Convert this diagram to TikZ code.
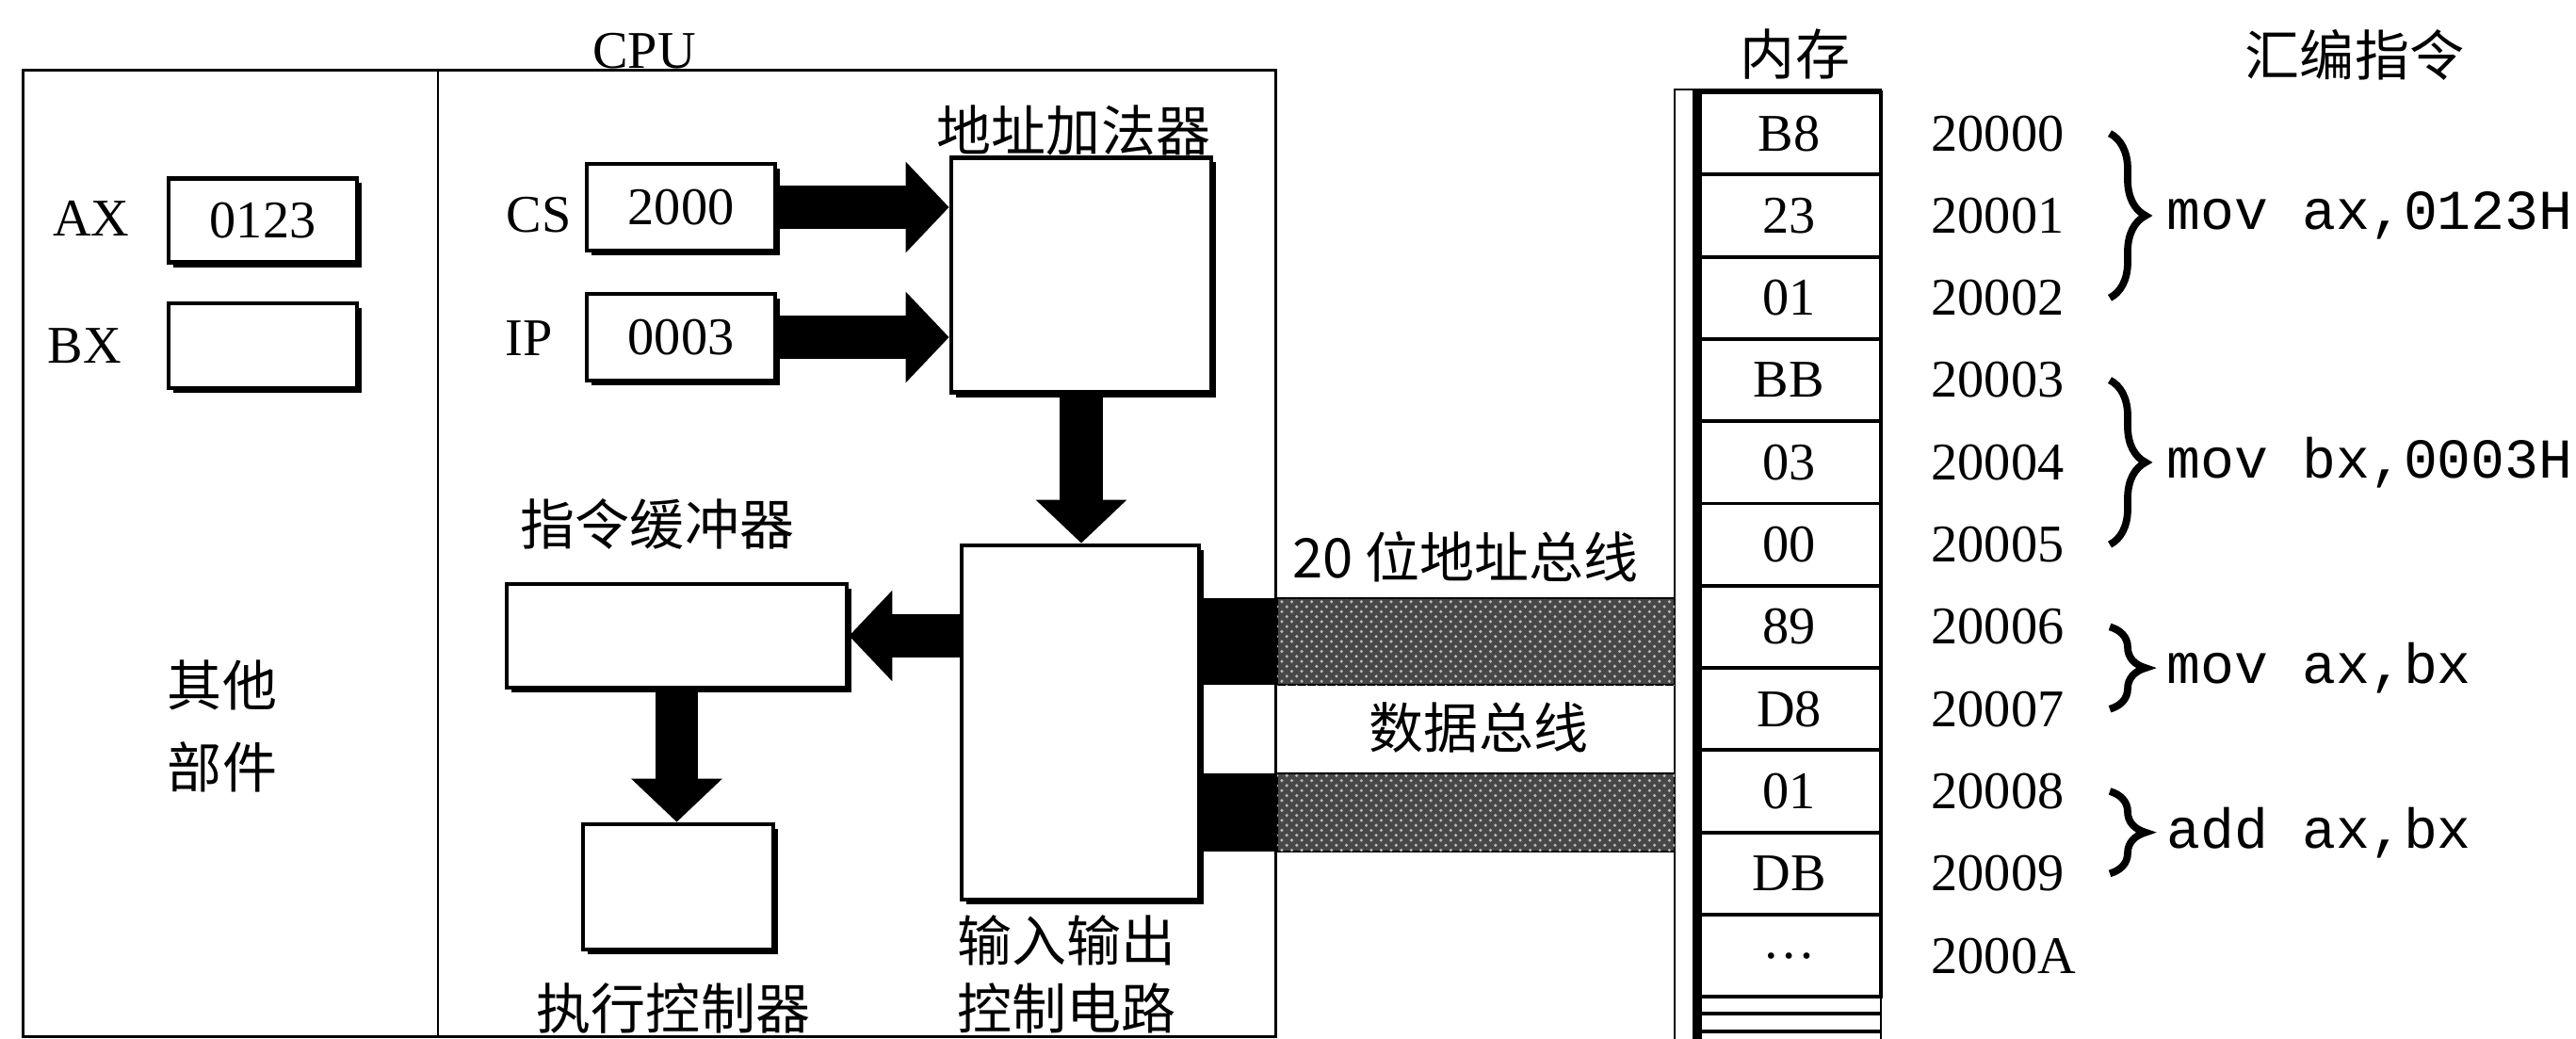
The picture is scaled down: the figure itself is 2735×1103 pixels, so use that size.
\documentclass[tikz,border=0pt]{standalone}
\usepackage{fontspec}
\setmainfont{Liberation Serif}
\setmonofont{Liberation Mono}
\newfontfamily\cjk{Noto Sans CJK SC}
\usepackage{tikz}
\usetikzlibrary{arrows.meta,calc,positioning,patterns,shadows,decorations.pathreplacing}

\begin{document}
\begin{tikzpicture}[x=0.01cm,y=-0.01cm,
  lbl/.style={font=\fontsize{16}{19}\selectfont},
  zh/.style={font=\cjk\fontsize{16.5}{20.5}\selectfont},
  asm/.style={font=\ttfamily\fontsize{17}{20}\selectfont,inner sep=0pt},
  box/.style={draw,line width=1.3pt,fill=white,inner sep=0pt,
    drop shadow={shadow xshift=0.05cm,shadow yshift=-0.05cm,opacity=1,fill=black}},
  cell/.style={draw,line width=1.1pt,minimum width=1.95cm,minimum height=0.873cm,inner sep=0pt},
  fat/.style={line width=0.45cm,-{Triangle[length=0.46cm,width=0.94cm]}},
  hatch/.style={fill=black!72,postaction={pattern=crosshatch dots,pattern color=black!28}},
  brace/.style={decorate,decoration={brace,amplitude=0.38cm},line width=2.2pt}]

\useasboundingbox (0,0) rectangle (2735,1103);

% CPU frame
\node[draw,line width=0.8pt,minimum width=13.29cm,minimum height=10.25cm,inner sep=0pt] (cpu) at (689.5,587.5) {};
\draw[line width=0.8pt] (cpu.north -| 465,0) -- (cpu.south -| 465,0);
\node[lbl,anchor=base] (cputxt) at (684,72) {CPU};

% registers
\node[box,lbl,minimum width=2cm,minimum height=0.89cm] (ax) at (279,234) {0123};
\node[box,minimum width=2cm,minimum height=0.9cm] (bx) at (279,367) {};
\node[lbl] (axname) at (97,232) {AX};
\node[lbl] (bxname) at (90,367) {BX};
\node[zh,font=\cjk\fontsize{16.5}{25}\selectfont,align=center] (othtxt) at (236,771) {其他\\部件};
\node[box,lbl,minimum width=2cm,minimum height=0.92cm] (cs) at (723,220) {2000};
\node[box,lbl,minimum width=2cm,minimum height=0.92cm] (ip) at (723,358) {0003};
\node[lbl] (csname) at (572,228) {CS};
\node[lbl] (ipname) at (562,359) {IP};

% inner units
\node[box,minimum width=2.76cm,minimum height=2.49cm] (adder) at (1148,292) {};
\node[zh] (addtxt) at (1140,138) {地址加法器};
\node[box,minimum width=2.52cm,minimum height=3.76cm] (io) at (1147,767) {};
\node[zh,align=left,anchor=west,inner sep=0pt] (iotxt) at (1016,1034) {输入输出\\控制电路};
\node[box,minimum width=3.61cm,minimum height=1.1cm] (buf) at (718.5,675) {};
\node[zh] (buftxt) at (698,556) {指令缓冲器};
\node[box,minimum width=2.02cm,minimum height=1.33cm] (exe) at (720,941.5) {};
\node[zh] (exetxt) at (715,1070) {执行控制器};

\draw[fat] (cs.east) -- (cs.east -| adder.west);
\draw[fat] (ip.east) -- (ip.east -| adder.west);
\draw[fat] (adder.south) -- (adder.south |- io.north);
\draw[fat] (io.west |- buf.east) -- (buf.east);
\draw[fat] (buf.south) -- (buf.south |- exe.north);

% memory
\coordinate (memtl) at (1778,95);
\foreach \v [count=\i from 0] in {B8,23,01,BB,03,00,89,D8,01,DB,\dots}
  \node[cell,lbl] (m\i) at (1899.5,{141.65+87.3*\i}) {\v};
\foreach \a [count=\i from 0] in {20000,20001,20002,20003,20004,20005,20006,20007,20008,20009,2000A}
  \node[lbl,anchor=west,inner sep=0pt] (a\i) at (2050,{141.65+87.3*\i}) {\a};
\draw[line width=1.1pt] (1802,1076) -- (1997,1076) (1802,1095) -- (1997,1095);
\draw[line width=0.8pt] (memtl |- 0,1103) -- (memtl) -- (1997,95) -- (1997,1103);
\draw[line width=0.1cm] (1802,95) -- (1802,1103);
\node[zh] (memtxt) at (1906,58) {内存};
\node[zh] (asmtxt) at (2500,58) {汇编指令};

% buses
\fill (io.east |- 0,635) rectangle (cpu.east |- 0,727);
\fill (io.east |- 0,821) rectangle (cpu.east |- 0,904);
\draw[hatch,line width=0.6pt] (cpu.east |- 0,635) rectangle (memtl |- 0,727);
\draw[hatch,line width=0.6pt] (cpu.east |- 0,821) rectangle (memtl |- 0,904);
\node[zh] (abus) at (1556,591) {20 位地址总线};
\node[zh] (dbus) at (1570,772) {数据总线};

% instructions
\draw[brace] (a0 -| 2240,0) -- node[asm,right=0.57cm] (i0) {mov ax,0123H} (a2 -| 2240,0);
\draw[brace] (a3 -| 2240,0) -- node[asm,right=0.57cm] (i1) {mov bx,0003H} (a5 -| 2240,0);
\draw[brace] (a6 -| 2240,0) -- node[asm,right=0.57cm] (i2) {mov ax,bx} (a7 -| 2240,0);
\draw[brace] (a8 -| 2240,0) -- node[asm,right=0.57cm] (i3) {add ax,bx} (a9 -| 2240,0);
\end{tikzpicture}
\end{document}
